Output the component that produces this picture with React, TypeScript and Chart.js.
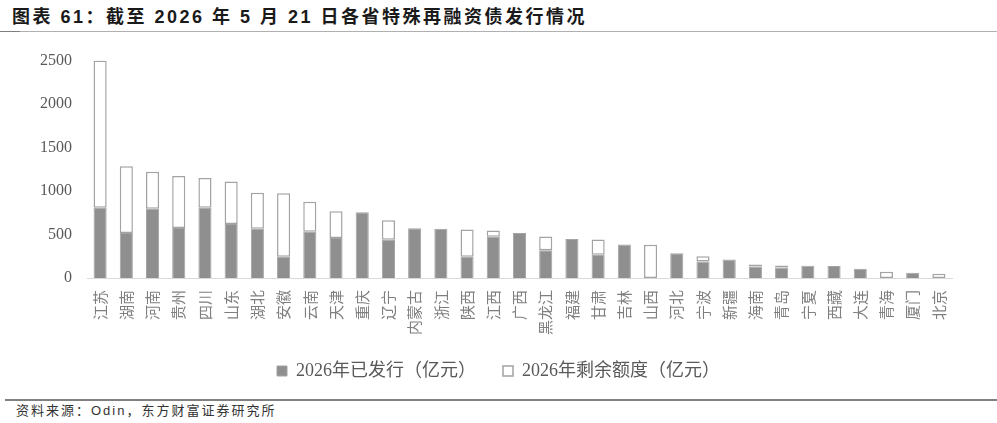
import React, { useEffect, useRef } from "react";
import { Chart, registerables } from "chart.js";

Chart.register(...registerables);

const provinces = [
  "江苏", "湖南", "河南", "贵州", "四川", "山东", "湖北", "安徽", "云南", "天津",
  "重庆", "辽宁", "内蒙古", "浙江", "陕西", "江西", "广西", "黑龙江", "福建", "甘肃",
  "吉林", "山西", "河北", "宁波", "新疆", "海南", "青岛", "宁夏", "西藏", "大连",
  "青海", "厦门", "北京",
];

const issued2026 = [
  807, 517, 795, 575, 807, 621, 567, 243, 532, 459,
  756, 440, 571, 567, 243, 475, 517, 320, 448, 266,
  385, 0, 285, 191, 214, 133, 122, 141, 137, 106,
  0, 61, 0,
];

const remaining2026 = [
  1693, 768, 428, 598, 343, 490, 413, 733, 344, 308,
  0, 223, 0, 0, 316, 72, 0, 158, 0, 177,
  0, 382, 0, 59, 0, 23, 23, 0, 0, 0,
  72, 0, 50,
];

const yTicks = [0, 500, 1000, 1500, 2000, 2500];

const seriesNames = ["2026年已发行（亿元）", "2026年剩余额度（亿元）"];

const titleText = "图表 61：截至 2026 年 5 月 21 日各省特殊再融资债发行情况";
const sourceText = "资料来源：Odin，东方财富证券研究所";

const labelClipFix = {
  id: "labelClipFix",
  afterLayout(chart: any) {
    const x = chart.scales.x;
    if (x) x.bottom = chart.height;
    const y = chart.scales.y;
    if (y) y.left = 0;
  },
};

export default function App() {
  const canvasRef = useRef<HTMLCanvasElement | null>(null);

  useEffect(() => {
    document.body.style.margin = "0";
    const canvas = canvasRef.current;
    if (!canvas) return;
    const chart = new Chart(canvas, {
      type: "bar",
      data: {
        labels: provinces,
        datasets: [
          {
            label: seriesNames[0],
            data: issued2026.map((v) => (v === 0 ? null : v)),
            backgroundColor: "#8f8f8f",
            borderColor: "#a3a3a3",
            borderWidth: 1,
            barPercentage: 0.5,
            categoryPercentage: 1,
          },
          {
            label: seriesNames[1],
            data: remaining2026.map((v) => (v === 0 ? null : v)),
            backgroundColor: "#ffffff",
            borderColor: "#a3a3a3",
            borderWidth: 1.5,
            borderSkipped: false,
            barPercentage: 0.5,
            categoryPercentage: 1,
          },
        ],
      },
      plugins: [labelClipFix],
      options: {
        animation: false,
        responsive: false,
        devicePixelRatio: 1,
        layout: { padding: { top: 10, left: 45, right: 45, bottom: 0 } },
        plugins: {
          tooltip: { enabled: false },
          legend: {
            position: "bottom",
            labels: {
              boxWidth: 10,
              boxHeight: 10,
              padding: 27,
              color: "#595959",
              font: { family: "'Liberation Serif', 'Noto Sans CJK SC'", size: 18 },
            },
          },
        },
        scales: {
          x: {
            stacked: true,
            grid: { display: false, drawTicks: false },
            border: { display: true, color: "#d9d9d9", width: 1 },
            ticks: {
              autoSkip: false,
              maxRotation: 90,
              minRotation: 90,
              padding: 12,
              color: "#7f7f7f",
              font: { family: "'Noto Sans CJK SC'", size: 15 },
            },
            afterFit: (scale: any) => {
              scale.height = 57;
            },
          },
          y: {
            stacked: true,
            min: 0,
            max: 2500,
            grid: { display: false, drawTicks: false },
            border: { display: false },
            afterBuildTicks: (scale: any) => {
              scale.ticks = yTicks.map((v) => ({ value: v }));
            },
            ticks: {
              padding: 15,
              color: "#595959",
              font: { family: "'Liberation Serif'", size: 16 },
              callback: (v: any) => String(v),
            },
            afterFit: (scale: any) => {
              scale.width = 42;
            },
          },
        },
      },
    });
    return () => chart.destroy();
  }, []);

  return (
    <div style={{ position: "relative", width: 997, height: 423, background: "#fff", overflow: "hidden" }}>
      <div
        style={{
          position: "absolute",
          left: 12,
          top: 6,
          fontFamily: "'Liberation Sans', 'Noto Sans CJK SC'",
          fontWeight: "bold",
          fontSize: 18,
          lineHeight: "22px",
          letterSpacing: 2.5,
          color: "#1a1a1a",
          whiteSpace: "nowrap",
        }}
      >
        {titleText}
      </div>
      <div style={{ position: "absolute", left: 0, top: 31, width: 997, height: 1, background: "#b0b0b0" }} />
      <div style={{ position: "absolute", left: 0, top: 31, width: 20, height: 1, background: "#7f7f7f" }} />
      <canvas
        ref={canvasRef}
        width={997}
        height={354}
        style={{ position: "absolute", left: 0, top: 36, width: 997, height: 354 }}
      />
      <div style={{ position: "absolute", left: 5, top: 399, width: 992, height: 2, background: "#808080" }} />
      <div
        style={{
          position: "absolute",
          left: 16,
          top: 403,
          fontFamily: "'Liberation Sans', 'Noto Sans CJK SC'",
          fontSize: 13,
          lineHeight: "16px",
          letterSpacing: 2,
          color: "#333",
          whiteSpace: "nowrap",
        }}
      >
        {sourceText}
      </div>
    </div>
  );
}
